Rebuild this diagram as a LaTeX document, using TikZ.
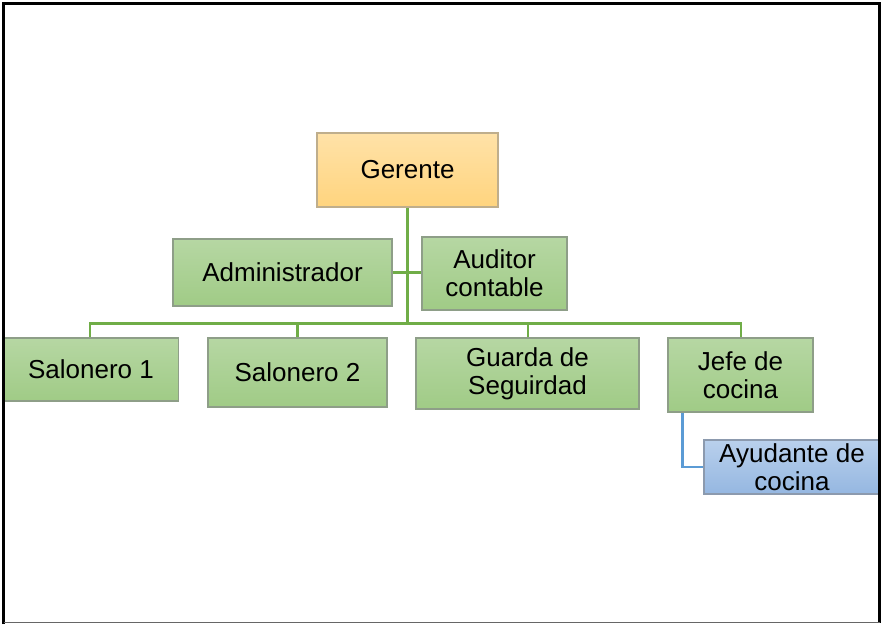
\documentclass[tikz,border=0pt]{standalone}
\usepackage{fontspec}
\setmainfont{Liberation Sans}
\usetikzlibrary{calc}
\definecolor{gfillT}{HTML}{B6D7A3}
\definecolor{gfillB}{HTML}{A0CB86}
\definecolor{gdraw}{HTML}{8E9E88}
\definecolor{ofillT}{HTML}{FFE2A8}
\definecolor{ofillB}{HTML}{FFD47E}
\definecolor{odraw}{HTML}{BFAE8C}
\definecolor{bfillT}{HTML}{B9D0EC}
\definecolor{bfillB}{HTML}{95B7E1}
\definecolor{bdraw}{HTML}{8C9AAE}
\definecolor{gline}{HTML}{70AD47}
\definecolor{bline}{HTML}{5B9BD5}
\tikzset{
  box/.style={rectangle, inner sep=0pt, align=center, line width=1.2pt,
    font=\fontsize{26}{28}\selectfont, text=black},
  greenbox/.style={box, draw=gdraw, top color=gfillT, bottom color=gfillB},
  orangebox/.style={box, draw=odraw, top color=ofillT, bottom color=ofillB},
  bluebox/.style={box, draw=bdraw, top color=bfillT, bottom color=bfillB},
  gconn/.style={draw=gline, line width=2.4pt},
  trunk/.style={draw=gline, line width=3.2pt},
  bconn/.style={draw=bline, line width=2.4pt},
  frameline/.style={line width=3pt, black}
}
\begin{document}
\begin{tikzpicture}[x=1pt,y=-1pt]
\useasboundingbox (0,0) rectangle (882,626);
\fill[white] (0,0) rectangle (882,626);
% connectors (drawn first)
\coordinate (bus) at (407.5,323.5);
\coordinate (gbot) at (407.5,207);
\draw[trunk] (gbot) -- (bus);
\coordinate (s1top) at (90,338);
\coordinate (s2top) at (297.5,338);
\coordinate (gutop) at (528,338);
\coordinate (jtop) at (741,338);
\draw[gconn] (bus) -| (s1top);
\draw[gconn] (bus) -| (s2top);
\draw[gconn] (bus) -| (gutop);
\draw[gconn] (bus) -| (jtop);
% nodes
\node[orangebox, minimum width=181pt, minimum height=74pt] (ger) at (407.5,170) {Gerente};
\node[greenbox, minimum width=219pt, minimum height=67pt] (adm) at (282.5,272.5) {Administrador};
\node[greenbox, minimum width=145pt, minimum height=73pt] (aud) at (494.5,273.5) {Auditor\\contable};
\node[greenbox, minimum width=175pt, minimum height=63pt] (sal1) at (91,369.5) {Salonero 1};
\node[greenbox, minimum width=179pt, minimum height=69pt] (sal2) at (297.5,372.5) {Salonero 2};
\node[greenbox, minimum width=223pt, minimum height=71pt] (gua) at (527.5,373.5) {Guarda de\\Seguirdad};
\node[greenbox, minimum width=145pt, minimum height=74pt] (jef) at (740.5,375) {Jefe de\\cocina};
\node[bluebox, minimum width=176pt, minimum height=54pt] (ayu) at (792,467) {Ayudante de\\cocina};
\draw[gconn] (adm.east) -- (adm.east -| aud.west);
\draw[bconn] ($(jef.south west)+(15,0)$) |- (ayu.west);
% frame
\draw[frameline] (3.5,624) -- (3.5,3.5) -- (879,3.5) -- (879,622.5);
\draw[line width=1.5pt, black!60] (3.5,622.5) -- (880,622.5);
\end{tikzpicture}
\end{document}
